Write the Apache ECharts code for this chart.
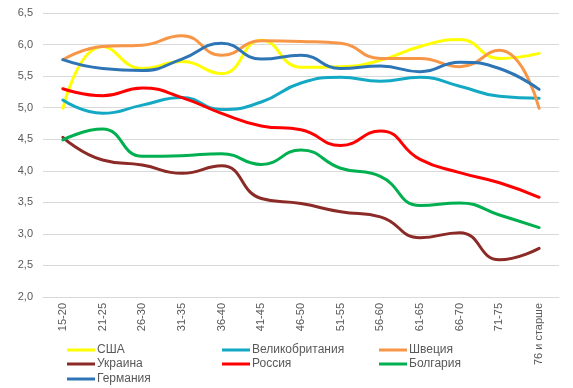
<!DOCTYPE html>
<html>
<head>
<meta charset="utf-8">
<script src="https://cdn.jsdelivr.net/npm/echarts@6/dist/echarts.min.js"></script>
<style>html,body{margin:0;padding:0;background:#fff;}#c{width:573px;height:388px;}</style>
</head>
<body>
<div id="c"></div>
<script>
const categories = ['15-20','21-25','26-30','31-35','36-40','41-45','46-50','51-55','56-60','61-65','66-70','71-75','76 и старше'];
const seriesNames = ['США','Великобритания','Швеция','Украина','Россия','Болгария','Германия'];
const usa      = [4.99, 5.97, 5.62, 5.73, 5.54, 6.07, 5.64, 5.65, 5.75, 5.97, 6.08, 5.78, 5.86];
const uk       = [5.12, 4.91, 5.04, 5.16, 4.97, 5.09, 5.39, 5.48, 5.42, 5.48, 5.34, 5.18, 5.15];
const sweden   = [5.76, 5.97, 5.99, 6.14, 5.83, 6.06, 6.05, 6.02, 5.78, 5.78, 5.65, 5.91, 4.99];
const ukraine  = [4.53, 4.17, 4.09, 3.96, 4.08, 3.56, 3.48, 3.35, 3.27, 2.94, 3.02, 2.59, 2.77];
const russia   = [5.30, 5.19, 5.31, 5.16, 4.91, 4.71, 4.65, 4.40, 4.63, 4.18, 3.97, 3.81, 3.58];
const bulgaria = [4.49, 4.66, 4.23, 4.24, 4.27, 4.10, 4.33, 4.04, 3.91, 3.45, 3.49, 3.30, 3.10];
const germany  = [5.76, 5.62, 5.59, 5.77, 6.02, 5.77, 5.83, 5.62, 5.66, 5.57, 5.72, 5.62, 5.29];
const yTicks = [2.0, 2.5, 3.0, 3.5, 4.0, 4.5, 5.0, 5.5, 6.0, 6.5];

const values = [usa, uk, sweden, ukraine, russia, bulgaria, germany];
const colors = ['#ffff00','#13a9c4','#f79646','#8b2a26','#ff0000','#00b050','#2e75b6'];
const legendPos = [[67,344],[222,344],[379,344],[67,358],[222,358],[379,358],[67,373]];

const chart = echarts.init(document.getElementById('c'));
chart.setOption({
  animation: false,
  grid: {left: 43, right: 14, top: 13, bottom: 91, containLabel: false},
  xAxis: {
    type: 'category', data: categories, boundaryGap: true,
    axisLine: {show: true, lineStyle: {color: '#d9d9d9', width: 1}},
    axisTick: {show: false},
    axisLabel: {rotate: 90, interval: 0, color: '#595959', fontSize: 11, fontFamily: 'Liberation Sans', margin: 6}
  },
  yAxis: {
    type: 'value', min: yTicks[0], max: yTicks[yTicks.length-1], interval: 0.5,
    axisLine: {show: false}, axisTick: {show: false},
    splitLine: {lineStyle: {color: '#d9d9d9', width: 1}},
    axisLabel: {color: '#595959', fontSize: 11, fontFamily: 'Liberation Sans', margin: 10,
      formatter: v => v.toFixed(1).replace('.', ',')}
  },
  legend: seriesNames.map((n, i) => ({
    data: [n], left: legendPos[i][0], top: legendPos[i][1], padding: 0,
    icon: 'rect', itemWidth: 28, itemHeight: 3,
    textStyle: {color: '#595959', fontSize: 12, fontFamily: 'Liberation Sans', padding: [0,0,0,-3]}
  })),
  series: seriesNames.map((n, i) => ({
    name: n, type: 'line', data: values[i], smooth: 0.5, showSymbol: false, symbol: 'none',
    color: colors[i], lineStyle: {width: 3, color: colors[i], cap: 'round'}
  }))
});
</script>
</body>
</html>
